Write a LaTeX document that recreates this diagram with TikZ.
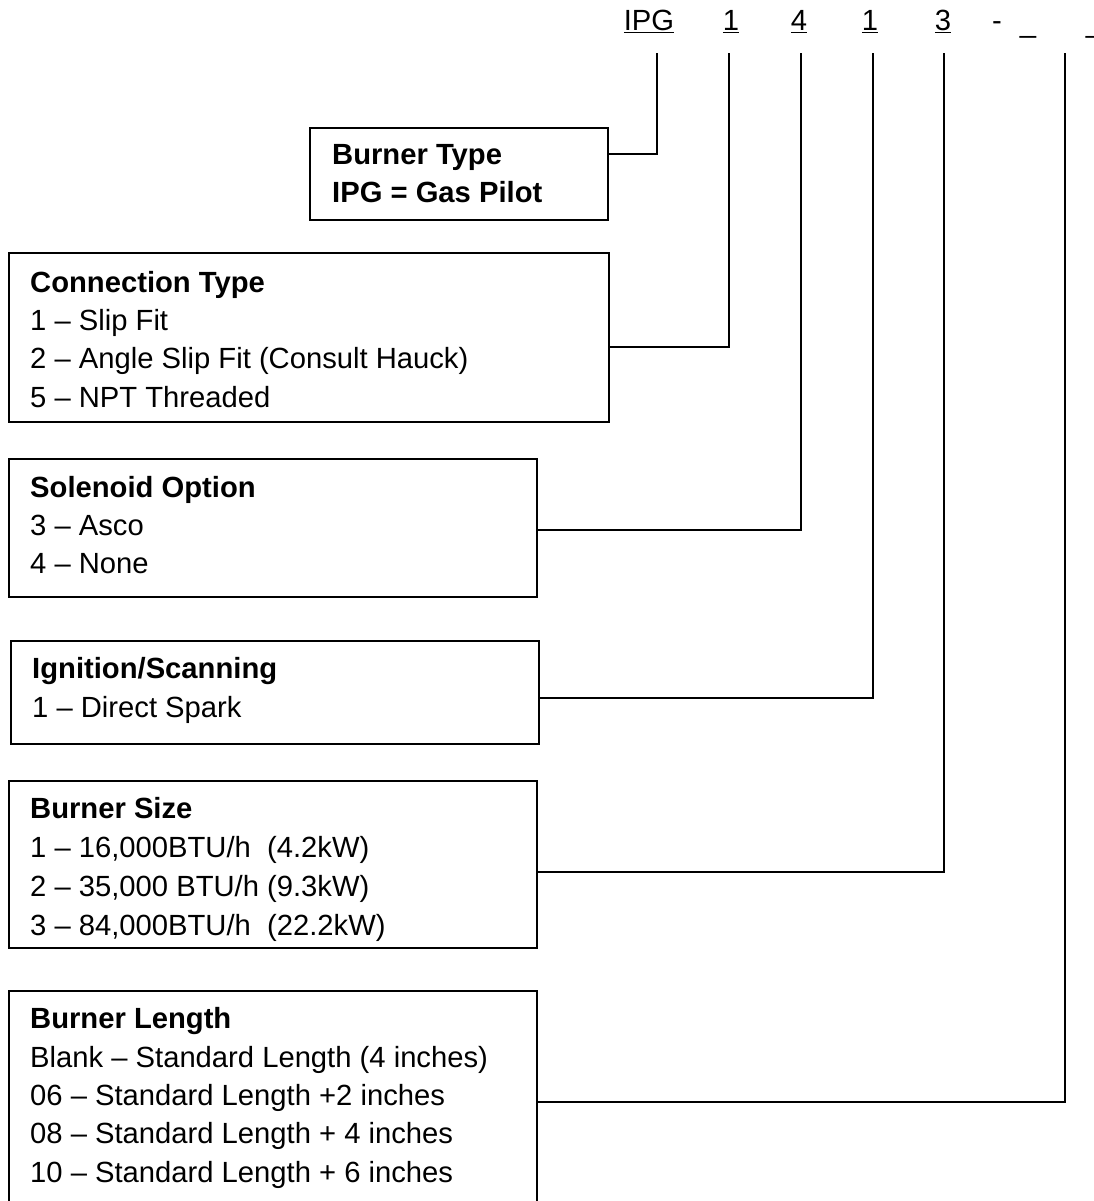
\documentclass[tikz,border=0pt]{standalone}
\usepackage{fontspec}
\setmainfont{Liberation Sans}
\begin{document}
\begin{tikzpicture}[x=1pt,y=-1pt,
  box/.style={draw, line width=2pt, anchor=north west, inner sep=0pt, outer sep=0pt},
  conn/.style={line width=2pt},
  txt/.style={anchor=base west, inner sep=0pt, font=\fontsize{29.2}{38}\selectfont},
  hd/.style={anchor=base, inner sep=0pt, font=\fontsize{29.2}{38}\selectfont}]
\useasboundingbox (0,0) rectangle (1093,1201);

% header code
\node[hd] (h0) at (649,31) {\underline{IPG}};
\node[hd] (h1) at (731,31) {\underline{1}};
\node[hd] (h2) at (799,31) {\underline{4}};
\node[hd] (h3) at (870,31) {\underline{1}};
\node[hd] (h4) at (943,31) {\underline{3}};
\node[hd] (h5) at (997,31) {-};
\node[hd] (h6) at (1028,33) {\_};
\node[hd] (h7) at (1094,33) {\_};

% line tops
\coordinate (t0) at (657,53);
\coordinate (t1) at (729,53);
\coordinate (t2) at (801,53);
\coordinate (t3) at (873,53);
\coordinate (t4) at (944,53);
\coordinate (t5) at (1065,53);

% boxes
\node[box, minimum width=298, minimum height=92] (bt) at (310,128) {};
\node[box, minimum width=600, minimum height=169] (ct) at (9,253) {};
\node[box, minimum width=528, minimum height=138] (so) at (9,459) {};
\node[box, minimum width=528, minimum height=103] (ig) at (11,641) {};
\node[box, minimum width=528, minimum height=167] (bs) at (9,781) {};
\node[box, minimum width=528, minimum height=240] (bl) at (9,991) {};

% texts
\node[txt] (bt1) at (332,165) {\bfseries Burner Type};
\node[txt] (bt2) at (332,202) {\bfseries IPG = Gas Pilot};

\node[txt] (ct1) at (30,292) {\bfseries Connection Type};
\node[txt] (ct2) at (30,330) {1 – Slip Fit};
\node[txt] (ct3) at (30,368) {2 – Angle Slip Fit (Consult Hauck)};
\node[txt] (ct4) at (30,407) {5 – NPT Threaded};

\node[txt] (so1) at (30,497) {\bfseries Solenoid Option};
\node[txt] (so2) at (30,535) {3 – Asco};
\node[txt] (so3) at (30,573) {4 – None};

\node[txt] (ig1) at (32,678) {\bfseries Ignition/Scanning};
\node[txt] (ig2) at (32,717) {1 – Direct Spark};

\node[txt] (bs1) at (30,818) {\bfseries Burner Size};
\node[txt] (bs2) at (30,857) {1 – 16,000BTU/h\ \ (4.2kW)};
\node[txt] (bs3) at (30,896) {2 – 35,000 BTU/h (9.3kW)};
\node[txt] (bs4) at (30,935) {3 – 84,000BTU/h\ \ (22.2kW)};

\node[txt] (bl1) at (30,1028) {\bfseries Burner Length};
\node[txt] (bl2) at (30,1067) {Blank – Standard Length (4 inches)};
\node[txt] (bl3) at (30,1105) {06 – Standard Length +2 inches};
\node[txt] (bl4) at (30,1143) {08 – Standard Length + 4 inches};
\node[txt] (bl5) at (30,1182) {10 – Standard Length + 6 inches};

% connectors
\draw[conn, line width=2.6pt] (bt.east |- 0,154) -| (t0);
\draw[conn] (ct.east |- 0,347) -| (t1);
\draw[conn] (so.east |- 0,530) -| (t2);
\draw[conn] (ig.east |- 0,698) -| (t3);
\draw[conn] (bs.east |- 0,872) -| (t4);
\draw[conn] (bl.east |- 0,1102) -| (t5);
\end{tikzpicture}
\end{document}
